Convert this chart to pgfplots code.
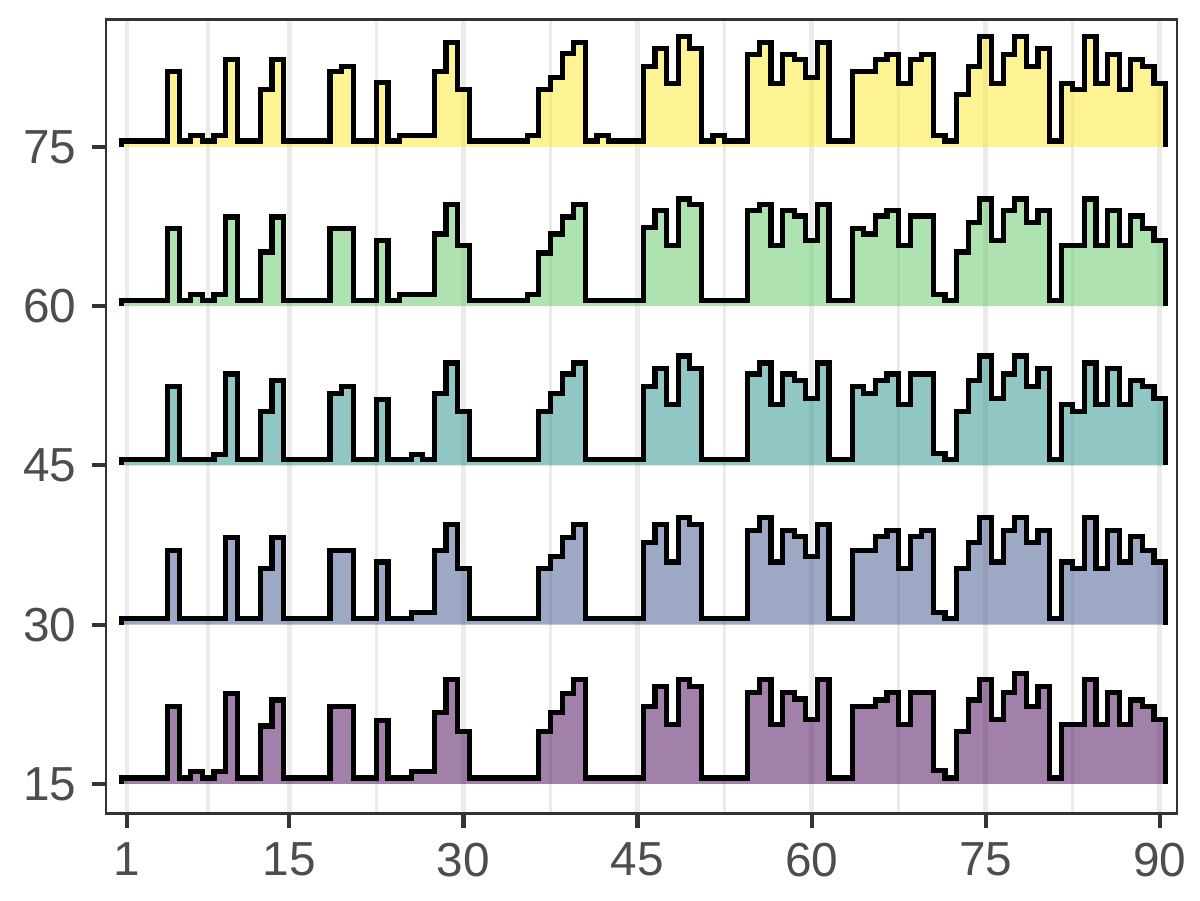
\documentclass[border=0pt]{standalone}
\usepackage{fontspec}
\setmainfont{Liberation Sans}
\usepackage{pgfplots}
\pgfplotsset{compat=1.18}
\usepackage{pgfplotstable}
\definecolor{vP}{HTML}{440154}
\definecolor{vB}{HTML}{3B528B}
\definecolor{vT}{HTML}{21908C}
\definecolor{vG}{HTML}{5DC863}
\definecolor{vY}{HTML}{FDE725}
\definecolor{gridgray}{HTML}{EBEBEB}
\definecolor{grey20}{HTML}{333333}
\definecolor{grey30}{HTML}{4D4D4D}

\pgfplotstableread{
x P B T G Y
1 0 0 0 0 0
1 0.55 0.55 0.55 0.55 0.55
2 0.55 0.55 0.55 0.55 0.55
3 0.55 0.55 0.55 0.55 0.55
4 0.55 0.55 0.55 0.55 0.55
5 7.3 7.0 7.4 7.3 7.1
6 0.55 0.55 0.55 0.55 0.55
7 1.15 0.55 0.55 1.1 1.1
8 0.55 0.55 0.55 0.55 0.55
9 1.15 0.55 1.0 1.1 1.1
10 8.5 8.2 8.6 8.4 8.2
11 0.55 0.55 0.55 0.55 0.55
12 0.55 0.55 0.55 0.55 0.55
13 5.45 5.25 5.1 5.1 5.4
14 7.9 8.2 8.0 8.4 8.2
15 0.55 0.55 0.55 0.55 0.55
16 0.55 0.55 0.55 0.55 0.55
17 0.55 0.55 0.55 0.55 0.55
18 0.55 0.55 0.55 0.55 0.55
19 7.3 7.0 6.8 7.3 7.1
20 7.3 7.0 7.4 7.3 7.6
21 0.55 0.55 0.55 0.55 0.55
22 0.55 0.55 0.55 0.55 0.55
23 6.0 5.9 6.2 6.2 6.1
24 0.55 0.55 0.55 0.55 0.55
25 0.55 0.55 0.55 1.1 1.1
26 1.15 1.15 1.0 1.1 1.1
27 1.15 1.15 0.55 1.1 1.1
28 6.7 7.0 6.8 6.8 7.1
29 9.8 9.4 9.65 9.6 9.8
30 4.9 5.25 5.1 5.7 5.4
31 0.55 0.55 0.55 0.55 0.55
32 0.55 0.55 0.55 0.55 0.55
33 0.55 0.55 0.55 0.55 0.55
34 0.55 0.55 0.55 0.55 0.55
35 0.55 0.55 0.55 0.55 0.55
36 0.55 0.55 0.55 1.1 1.1
37 4.9 5.25 5.1 5.0 5.4
38 6.7 6.4 6.8 6.8 6.5
39 8.5 8.2 8.6 8.4 8.8
40 9.8 9.4 9.65 9.6 9.8
41 0.55 0.55 0.55 0.55 0.55
42 0.55 0.55 0.55 0.55 1.1
43 0.55 0.55 0.55 0.55 0.55
44 0.55 0.55 0.55 0.55 0.55
45 0.55 0.55 0.55 0.55 0.55
46 7.3 7.7 7.4 7.4 7.6
47 9.2 9.4 9.1 9.0 9.3
48 5.6 5.9 5.7 5.7 6.0
49 9.8 10.1 10.3 10.1 10.4
50 9.2 9.4 9.1 9.6 9.3
51 0.55 0.55 0.55 0.55 0.55
52 0.55 0.55 0.55 0.55 1.1
53 0.55 0.55 0.55 0.55 0.55
54 0.55 0.55 0.55 0.55 0.55
55 8.6 8.9 8.6 9.0 8.7
56 9.8 10.1 9.65 9.6 9.8
57 5.6 5.9 5.7 5.7 6.0
58 8.6 8.9 8.6 9.0 8.7
59 8.0 8.3 8.0 8.5 8.2
60 6.1 6.4 6.3 6.2 6.5
61 9.8 9.4 9.65 9.6 9.8
62 0.55 0.55 0.55 0.55 0.55
63 0.55 0.55 0.55 0.55 0.55
64 7.3 7.0 7.4 7.3 7.1
65 7.3 7.0 6.8 6.8 7.1
66 7.9 8.3 8.0 8.5 8.2
67 8.6 8.9 8.6 9.0 8.7
68 5.6 5.25 5.7 5.7 6.0
69 8.6 8.3 8.6 8.5 8.2
70 8.6 8.9 8.6 8.5 8.7
71 1.25 1.15 1.1 1.1 1.1
72 0.55 0.55 0.55 0.55 0.55
73 4.9 5.25 5.1 5.1 4.9
74 7.9 7.7 8.0 7.9 7.6
75 9.8 10.1 10.3 10.1 10.4
76 6.1 5.9 6.3 6.2 6.0
77 8.6 8.9 8.6 9.0 8.7
78 10.4 10.1 10.3 10.1 10.4
79 7.3 7.7 7.4 7.9 7.6
80 9.2 8.9 9.1 9.0 9.3
81 0.55 0.55 0.55 0.55 0.55
82 5.6 5.9 5.7 5.7 6.0
83 5.6 5.25 5.1 5.7 5.4
84 9.8 10.1 9.65 10.1 10.4
85 5.6 5.25 5.7 5.7 6.0
86 8.6 8.9 9.1 9.0 8.7
87 5.6 5.9 5.7 5.7 5.4
88 7.9 8.3 8.0 8.5 8.2
89 7.3 7.0 7.4 7.3 7.6
90 6.1 5.9 6.3 6.2 6.0
91 6.1 5.9 6.3 6.2 6.0
91 0 0 0 0 0
}\ridgedata

\begin{document}
\fontsize{11.5}{13}\selectfont
\begin{tikzpicture}
\useasboundingbox (-25.54pt,-20.84pt) rectangle (263.5pt,195.97pt);
\begin{axis}[
  at={(0pt,0pt)}, anchor=south west,
  scale only axis, width=258.0pt, height=191.27pt,
  xmin=-0.8, xmax=91.5, ymin=12.2, ymax=87.0,
  xtick={1,15,30,45,60,75,90},
  ytick={15,30,45,60,75},
  minor xtick={8,22.5,37.5,52.5,67.5,82.5},
  xmajorgrids, xminorgrids,
  major grid style={color=gridgray, line width=1.1pt},
  minor grid style={color=gridgray, line width=0.8pt},
  tick pos=left, tick align=outside,
  major tick length=3.4pt, minor tick length=0pt,
  major tick style={color=grey20, line width=1pt},
  axis line style={color=grey20, line width=0.55pt},
  tick label style={font=\fontsize{11.5}{13}\selectfont, text=grey30, inner sep=0pt},
  /pgf/number format/assume math mode=true,
  xticklabel style={anchor=north, yshift=-3.4pt},
  yticklabel style={anchor=east, xshift=-3.6pt},
]
\addplot[const plot mark left, mark=none, draw=black, line width=1.25pt, fill=vP, fill opacity=0.5]
  table[x expr=\thisrow{x}-0.5, y expr=\thisrow{P}+15]{\ridgedata};
\addplot[const plot mark left, mark=none, draw=black, line width=1.25pt, fill=vB, fill opacity=0.5]
  table[x expr=\thisrow{x}-0.5, y expr=\thisrow{B}+30]{\ridgedata};
\addplot[const plot mark left, mark=none, draw=black, line width=1.25pt, fill=vT, fill opacity=0.5]
  table[x expr=\thisrow{x}-0.5, y expr=\thisrow{T}+45]{\ridgedata};
\addplot[const plot mark left, mark=none, draw=black, line width=1.25pt, fill=vG, fill opacity=0.5]
  table[x expr=\thisrow{x}-0.5, y expr=\thisrow{G}+60]{\ridgedata};
\addplot[const plot mark left, mark=none, draw=black, line width=1.25pt, fill=vY, fill opacity=0.5]
  table[x expr=\thisrow{x}-0.5, y expr=\thisrow{Y}+75]{\ridgedata};
\end{axis}
\end{tikzpicture}
\end{document}
